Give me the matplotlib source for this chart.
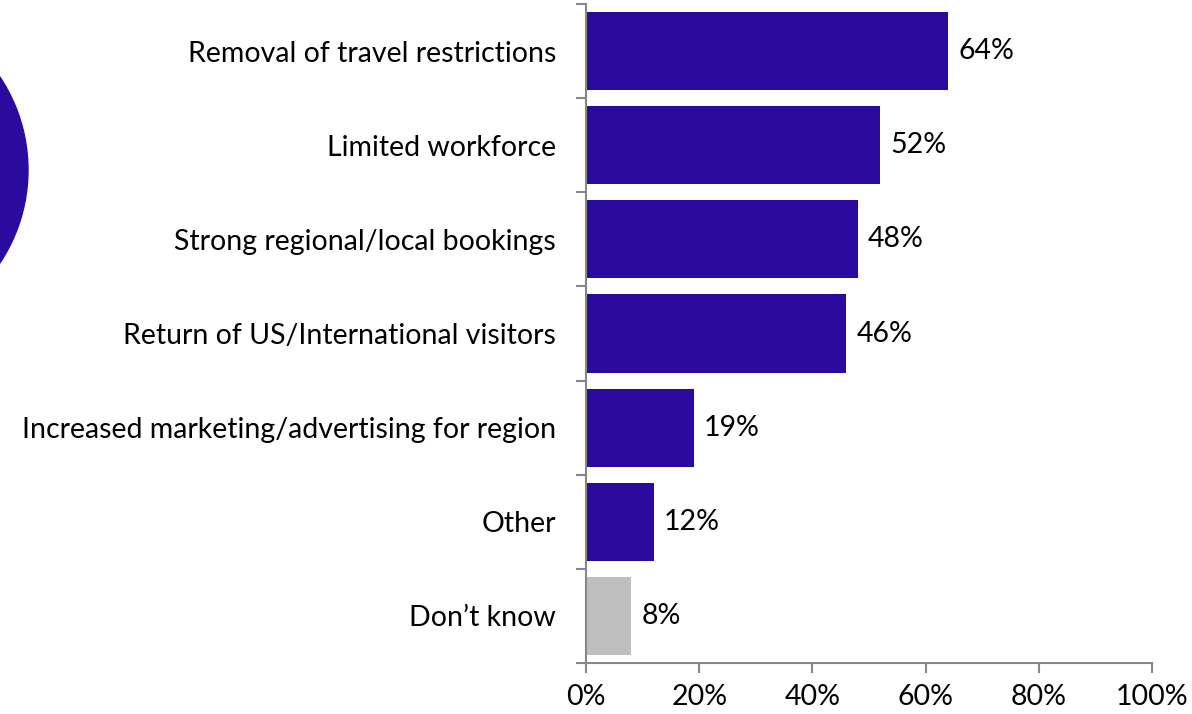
import matplotlib.pyplot as plt
from matplotlib.patches import Circle

categories = [
    "Removal of travel restrictions",
    "Limited workforce",
    "Strong regional/local bookings",
    "Return of US/International visitors",
    "Increased marketing/advertising for region",
    "Other",
    "Don\u2019t know",
]
values = [64, 52, 48, 46, 19, 12, 8]
xticks = [0, 20, 40, 60, 80, 100]

purple = "#2B0A9E"
grey = "#BFBFBF"
colors = [purple] * 6 + [grey]

plt.rcParams["font.family"] = ["Lato", "DejaVu Sans"]
fs = 20.5

fig = plt.figure(figsize=(11.92, 7.14), dpi=100)
ax = fig.add_axes([586 / 1192, 1 - 663 / 714, 566 / 1192, 659 / 714])

pos = list(range(len(categories)))
ax.barh(pos, values, height=0.83, color=colors)
for y, v in zip(pos, values):
    ax.text(v + 1.8, y, f"{v}%", va="center", ha="left", fontsize=fs)

ax.set_xlim(0, 100)
ax.set_ylim(len(categories) - 0.5, -0.5)
ax.set_xticks(xticks)
ax.set_xticklabels([f"{t}%" for t in xticks], fontsize=fs)
ax.set_yticks(pos)
ax.set_yticklabels(categories, fontsize=fs)
ax.set_yticks([p - 0.5 for p in range(len(categories) + 1)], minor=True)
ax.tick_params(axis="y", which="major", length=0, pad=21.5)
ax.tick_params(axis="y", which="minor", length=7, width=1.5, color="#888888")
ax.tick_params(axis="x", length=7, width=1.5, color="#888888", pad=8)

for s in ["top", "right"]:
    ax.spines[s].set_visible(False)
for s in ["left", "bottom"]:
    ax.spines[s].set_color("#888888")
    ax.spines[s].set_linewidth(1.5)

# decorative disc cut off at the left edge (inches, so it stays round)
disc = Circle((-1.40, (714 - 170) / 100), 1.68,
              transform=fig.dpi_scale_trans, color=purple)
fig.patches.append(disc)

fig.savefig("out.png", dpi=100)
